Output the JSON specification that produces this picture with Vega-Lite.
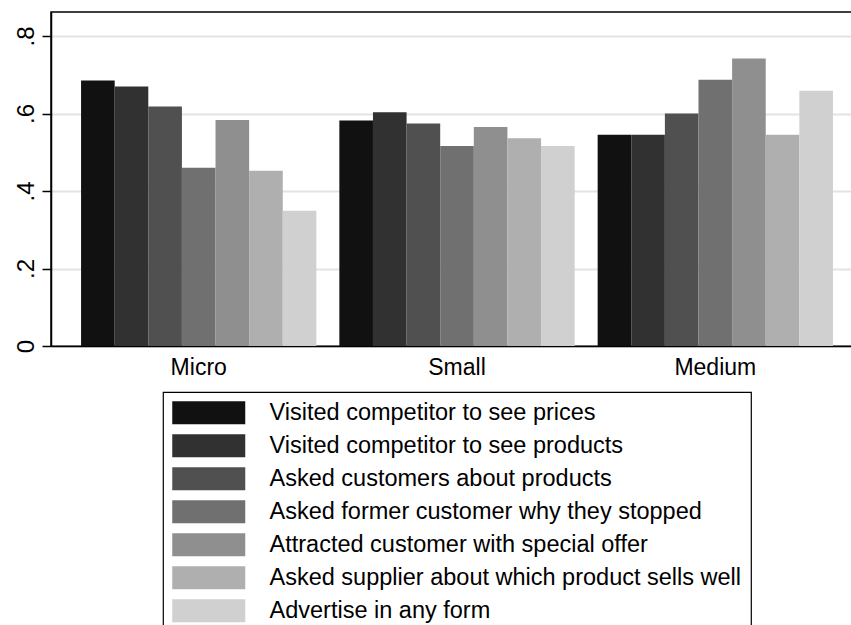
{
  "$schema": "https://vega.github.io/schema/vega-lite/v6.json",
  "autosize": {"type": "none"},
  "padding": {"left": 51, "top": 12, "right": 0, "bottom": 279},
  "width": 802,
  "height": 334,
  "background": "white",
  "config": {
    "font": "Liberation Sans",
    "view": {"stroke": "#000000", "strokeWidth": 1.5},
    "axis": {"labelColor": "#000000", "labelFont": "Liberation Sans"},
    "legend": {"labelFont": "Liberation Sans", "strokeWidth": 1.2}
  },
  "data": {
    "values": [
      {"size": "Micro", "activity": "Visited competitor to see prices", "share": 0.685},
      {"size": "Micro", "activity": "Visited competitor to see products", "share": 0.670},
      {"size": "Micro", "activity": "Asked customers about products", "share": 0.618},
      {"size": "Micro", "activity": "Asked former customer why they stopped", "share": 0.460},
      {"size": "Micro", "activity": "Attracted customer with special offer", "share": 0.583},
      {"size": "Micro", "activity": "Asked supplier about which product sells well", "share": 0.452},
      {"size": "Micro", "activity": "Advertise in any form", "share": 0.349},
      {"size": "Small", "activity": "Visited competitor to see prices", "share": 0.582},
      {"size": "Small", "activity": "Visited competitor to see products", "share": 0.603},
      {"size": "Small", "activity": "Asked customers about products", "share": 0.574},
      {"size": "Small", "activity": "Asked former customer why they stopped", "share": 0.516},
      {"size": "Small", "activity": "Attracted customer with special offer", "share": 0.565},
      {"size": "Small", "activity": "Asked supplier about which product sells well", "share": 0.536},
      {"size": "Small", "activity": "Advertise in any form", "share": 0.516},
      {"size": "Medium", "activity": "Visited competitor to see prices", "share": 0.545},
      {"size": "Medium", "activity": "Visited competitor to see products", "share": 0.545},
      {"size": "Medium", "activity": "Asked customers about products", "share": 0.600},
      {"size": "Medium", "activity": "Asked former customer why they stopped", "share": 0.687},
      {"size": "Medium", "activity": "Attracted customer with special offer", "share": 0.742},
      {"size": "Medium", "activity": "Asked supplier about which product sells well", "share": 0.545},
      {"size": "Medium", "activity": "Advertise in any form", "share": 0.659}
    ]
  },
  "mark": {"type": "bar"},
  "encoding": {
    "x": {
      "field": "size",
      "type": "nominal",
      "sort": ["Micro", "Small", "Medium"],
      "scale": {"paddingInner": 0.089, "paddingOuter": 0.097, "align": 0.6},
      "axis": {
        "title": null,
        "labelAngle": 0,
        "labelFontSize": 23,
        "labelPadding": 10,
        "ticks": false,
        "domainColor": "#000000",
        "domainWidth": 1.5
      }
    },
    "xOffset": {
      "field": "activity",
      "type": "nominal",
      "sort": [
        "Visited competitor to see prices",
        "Visited competitor to see products",
        "Asked customers about products",
        "Asked former customer why they stopped",
        "Attracted customer with special offer",
        "Asked supplier about which product sells well",
        "Advertise in any form"
      ],
      "scale": {"paddingInner": 0, "paddingOuter": 0}
    },
    "y": {
      "field": "share",
      "type": "quantitative",
      "scale": {"domain": [0, 0.862], "nice": false},
      "axis": {
        "title": null,
        "values": [0, 0.2, 0.4, 0.6, 0.8],
        "labelExpr": "datum.value == 0 ? '0' : replace(format(datum.value, '.1f'), '0.', '.')",
        "labelAngle": -90,
        "labelAlign": "center",
        "labelBaseline": "bottom",
        "labelFontSize": 24,
        "labelPadding": 4,
        "tickSize": 9,
        "tickColor": "#000000",
        "tickWidth": 1.5,
        "domainColor": "#000000",
        "domainWidth": 1.5,
        "gridColor": "#e3e3e3",
        "gridWidth": 2
      }
    },
    "color": {
      "field": "activity",
      "type": "nominal",
      "scale": {
        "domain": [
          "Visited competitor to see prices",
          "Visited competitor to see products",
          "Asked customers about products",
          "Asked former customer why they stopped",
          "Attracted customer with special offer",
          "Asked supplier about which product sells well",
          "Advertise in any form"
        ],
        "range": ["#111111", "#313131", "#505050", "#707070", "#8f8f8f", "#afafaf", "#d0d0d0"]
      },
      "legend": {
        "title": null,
        "orient": "none",
        "legendX": 112,
        "legendY": 380,
        "direction": "vertical",
        "strokeColor": "#000000",
        "fillColor": "#ffffff",
        "cornerRadius": 0,
        "padding": 9,
        "rowPadding": 8,
        "symbolType": "M-1,-1H5.348V1H-1Z",
        "symbolSize": 529,
        "symbolStrokeWidth": 0,
        "symbolOpacity": 1,
        "labelFontSize": 23.5,
        "labelOffset": 74,
        "labelColor": "#000000",
        "labelLimit": 700
      }
    }
  }
}
